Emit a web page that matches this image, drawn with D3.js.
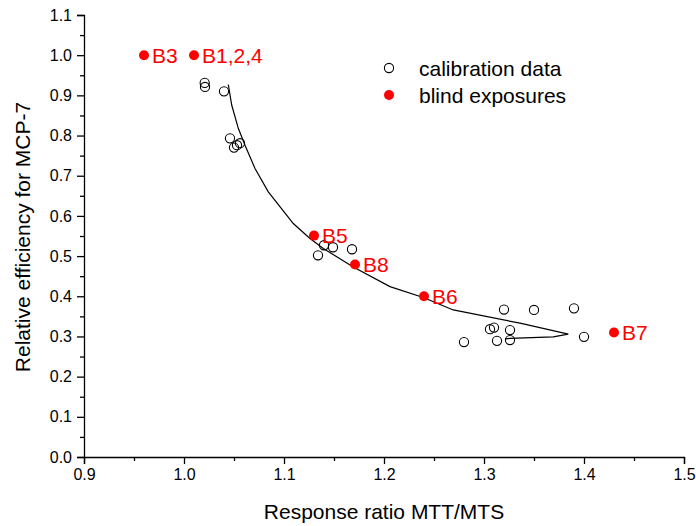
<!DOCTYPE html>
<html><head><meta charset="utf-8">
<script src="https://cdn.jsdelivr.net/npm/d3@7"></script>
<style>body{margin:0;background:#fff}svg{display:block;font-family:"Liberation Sans",Arial,sans-serif}</style>
</head><body>
<svg id="c" width="696" height="526"></svg>
<script>
// calibration data (open circles)
const calX = [1.0207,1.021,1.040,1.046,1.050,1.053,1.056,1.140,1.149,1.134,1.168,1.320,1.350,1.390,1.306,1.310,1.326,1.280,1.313,1.326,1.400];
const calY = [0.931,0.921,0.910,0.793,0.770,0.776,0.781,0.527,0.522,0.502,0.517,0.367,0.366,0.370,0.318,0.322,0.316,0.286,0.289,0.291,0.299];
// blind exposures (red dots)
const blindLabels = ["B3","B1,2,4","B5","B8","B6","B7"];
const blindX = [0.960,1.010,1.130,1.171,1.240,1.430];
const blindY = [1.000,1.000,0.551,0.479,0.400,0.310];
// fitted curve
const fitX = [1.0443,1.0477,1.0543,1.061,1.071,1.0843,1.1093,1.126,1.1393,1.1693,1.206,1.2393,1.2693,1.336,1.3843,1.3693,1.326,1.321];
const fitY = [0.927,0.876,0.818,0.776,0.718,0.660,0.581,0.544,0.519,0.473,0.424,0.397,0.366,0.333,0.306,0.299,0.295,0.294];
const xTicks = [0.9,1.0,1.1,1.2,1.3,1.4,1.5];
const yTicks = [0.0,0.1,0.2,0.3,0.4,0.5,0.6,0.7,0.8,0.9,1.0,1.1];
const legendLabels = ["calibration data","blind exposures"];

const svg = d3.select("#c");
const x = d3.scaleLinear().domain([0.9,1.5]).range([84,684]);
const y = d3.scaleLinear().domain([0,1.1]).range([457,15]);

// axes
const xMinor = d3.range(0.95,1.5,0.1);
const yMinor = d3.range(0.05,1.1,0.1);
const gx = svg.append("g").attr("transform","translate(0,457)");
gx.call(d3.axisBottom(x).tickValues(xTicks).tickFormat(d3.format(".1f")).tickSizeOuter(0).tickSize(7).tickPadding(5));
gx.append("g").call(d3.axisBottom(x).tickValues(xMinor).tickFormat("").tickSize(4).tickSizeOuter(0)).select(".domain").remove();
const gy = svg.append("g").attr("transform","translate(84,0)");
gy.call(d3.axisLeft(y).tickValues(yTicks).tickFormat(d3.format(".1f")).tickSizeOuter(0).tickSize(7).tickPadding(5));
gy.append("g").call(d3.axisLeft(y).tickValues(yMinor).tickFormat("").tickSize(4).tickSizeOuter(0)).select(".domain").remove();
svg.selectAll(".tick text").attr("font-size",16).attr("fill","#000").attr("font-family","Liberation Sans, Arial, sans-serif");
svg.selectAll(".domain,.tick line").attr("stroke","#000").attr("stroke-width",1.3);

// titles
svg.append("text").attr("x",384).attr("y",519).attr("text-anchor","middle").attr("font-size",21).text("Response ratio MTT/MTS");
svg.append("text").attr("transform","translate(30,237) rotate(-90)").attr("text-anchor","middle").attr("font-size",21).text("Relative efficiency for MCP-7");

// curve
const line = d3.line().x(d=>x(d[0])).y(d=>y(d[1]));
svg.append("path").datum(fitX.map((v,i)=>[v,fitY[i]])).attr("d",line).attr("fill","none").attr("stroke","#000").attr("stroke-width",1.2);

// calibration circles
svg.append("g").selectAll("circle").data(calX.map((v,i)=>[v,calY[i]])).join("circle")
  .attr("cx",d=>x(d[0])).attr("cy",d=>y(d[1])).attr("r",4.6).attr("fill","none").attr("stroke","#000").attr("stroke-width",1.1);

// blind
const blind = blindX.map((v,i)=>({x:v,y:blindY[i],l:blindLabels[i]}));
svg.append("g").selectAll("circle").data(blind).join("circle")
  .attr("cx",d=>x(d.x)).attr("cy",d=>y(d.y)).attr("r",5).attr("fill","#f00");
svg.append("g").selectAll("text").data(blind).join("text")
  .attr("x",d=>x(d.x)+8).attr("y",d=>y(d.y)).attr("dy","0.36em").attr("font-size",21).attr("fill","#f00").text(d=>d.l);

// legend
const lg = svg.append("g");
lg.append("circle").attr("cx",389).attr("cy",68).attr("r",4.6).attr("fill","none").attr("stroke","#000").attr("stroke-width",1.1);
lg.append("circle").attr("cx",389).attr("cy",95).attr("r",5).attr("fill","#f00");
lg.selectAll("text").data(legendLabels).join("text").attr("x",419).attr("y",(d,i)=>68+27*i).attr("dy","0.36em").attr("font-size",21).text(d=>d);
</script>
</body></html>
